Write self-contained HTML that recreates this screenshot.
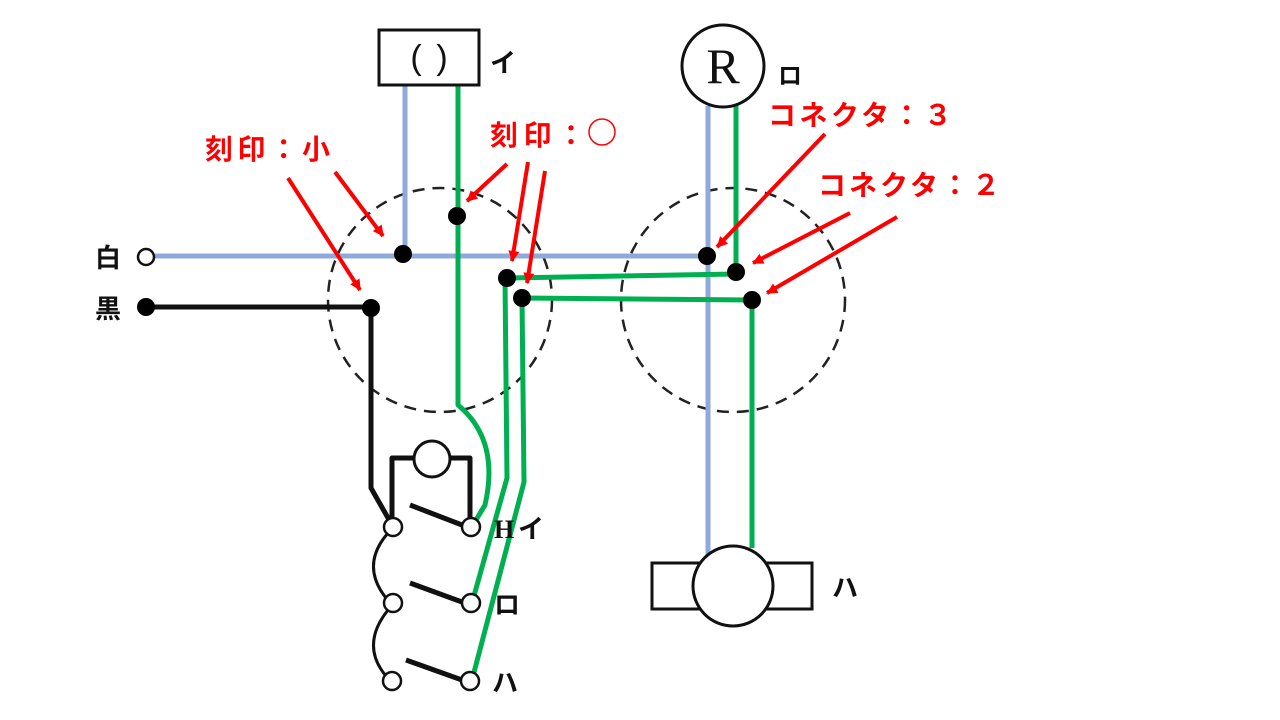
<!DOCTYPE html>
<html><head><meta charset="utf-8"><style>
html,body{margin:0;padding:0;background:#fff;}
svg{display:block;}
text{font-family:"Liberation Sans","Noto Sans CJK JP",sans-serif;}
</style></head><body>
<svg width="1280" height="720" viewBox="0 0 1280 720" xmlns="http://www.w3.org/2000/svg">
<defs>
<marker id="ar" viewBox="0 0 10 10" refX="9" refY="5" markerWidth="5" markerHeight="5" orient="auto" markerUnits="userSpaceOnUse" style="overflow:visible">
<path d="M0,0 L10,5 L0,10 z" fill="#ff0000" transform="scale(2.2) translate(-5,-3)"/>
</marker>
</defs>
<circle cx="440" cy="300" r="112" fill="none" stroke="#222" stroke-width="2.5" stroke-dasharray="12,8"/>
<circle cx="733" cy="300" r="112" fill="none" stroke="#222" stroke-width="2.5" stroke-dasharray="12,8"/>
<g stroke="#8eaadb" stroke-width="5" fill="none">
<line x1="155" y1="256" x2="708" y2="256"/>
<line x1="405" y1="85" x2="405" y2="256"/>
<line x1="708" y1="106" x2="708" y2="555"/>
</g>
<g stroke="#00b050" stroke-width="5" fill="none" stroke-linejoin="round">
<path d="M458,85 L458,405 Q500,440 485,505 L473,525"/>
<line x1="736" y1="104" x2="736" y2="272"/>
<path d="M507,278 L736,274"/>
<path d="M522,298 L752,300 L752,548"/>
<path d="M505,278 L507,478 L472,603"/>
<path d="M522,298 L524,482 L472,680"/>
</g>
<g stroke="#111" stroke-width="5" fill="none" stroke-linejoin="round">
<line x1="146" y1="307" x2="371" y2="307"/>
<path d="M371,307 L371,488 L392,525"/>
<path d="M392,525 L392,458 L414,458"/>
<path d="M450,458 L470,458 L470,525"/>
<line x1="410" y1="505" x2="462" y2="525"/>
<line x1="410" y1="583" x2="462" y2="602"/>
<line x1="406" y1="660" x2="462" y2="680"/>
</g>
<g stroke="#111" stroke-width="3" fill="none">
<path d="M388,533 Q360,565 386,598"/>
<path d="M388,610 Q360,645 386,676"/>
</g>
<circle cx="432" cy="459" r="18" fill="#fff" stroke="#111" stroke-width="3"/>
<g fill="#fff" stroke="#111" stroke-width="2.5">
<circle cx="393" cy="527" r="9"/><circle cx="471" cy="527" r="9"/>
<circle cx="393" cy="603" r="9"/><circle cx="471" cy="603" r="9"/>
<circle cx="392" cy="681" r="9"/><circle cx="470" cy="681" r="9"/>
<circle cx="146" cy="257" r="8"/>
</g>
<g fill="#000">
<circle cx="146" cy="307" r="9"/>
<circle cx="403" cy="254" r="9"/><circle cx="457" cy="216" r="9"/>
<circle cx="371" cy="308" r="9"/>
<circle cx="507" cy="278" r="9"/><circle cx="522" cy="298" r="9"/>
<circle cx="707" cy="256" r="9"/><circle cx="736" cy="272" r="9"/>
<circle cx="752" cy="300" r="9"/>
</g>
<rect x="379" y="30" width="100" height="55" fill="#fff" stroke="#111" stroke-width="3"/>
<text x="416" y="69" font-size="34" text-anchor="middle" fill="#111">(</text>
<text x="442" y="69" font-size="34" text-anchor="middle" fill="#111">)</text>
<text x="490" y="72" font-size="26" font-weight="bold" fill="#111">イ</text>
<circle cx="723" cy="66" r="41" fill="#fff" stroke="#111" stroke-width="3"/>
<text x="723" y="83" font-size="50" text-anchor="middle" fill="#111" style="font-family:'Liberation Serif',serif">R</text>
<text x="778" y="84" font-size="24" font-weight="bold" fill="#111">ロ</text>
<rect x="652" y="563" width="160" height="46" fill="#fff" stroke="#111" stroke-width="3"/>
<circle cx="733" cy="586" r="40" fill="#fff" stroke="#111" stroke-width="3"/>
<text x="832" y="597" font-size="26" font-weight="bold" fill="#111">ハ</text>
<text x="95" y="267" font-size="26" font-weight="bold" fill="#111">白</text>
<text x="95" y="318" font-size="26" font-weight="bold" fill="#111">黒</text>
<text x="494" y="538" font-size="26" font-weight="bold" fill="#111" style="font-family:'Liberation Serif',serif">H</text>
<text x="518" y="538" font-size="26" font-weight="bold" fill="#111">イ</text>
<text x="494" y="614" font-size="26" font-weight="bold" fill="#111">ロ</text>
<text x="492" y="692" font-size="26" font-weight="bold" fill="#111">ハ</text>
<g fill="#ff0000" font-weight="bold" font-size="28">
<text x="205" y="159" textLength="125" lengthAdjust="spacing">刻印：小</text>
<text x="490" y="145" textLength="95" lengthAdjust="spacing">刻印：</text>
<text x="768" y="125" textLength="184" lengthAdjust="spacing">コネクタ：３</text>
<text x="818" y="195" textLength="182" lengthAdjust="spacing">コネクタ：２</text>
</g>
<circle cx="602" cy="132" r="13" fill="none" stroke="#ff0000" stroke-width="1.5"/>
<g stroke="#ff0000" stroke-width="4" marker-end="url(#ar)">
<line x1="288" y1="178" x2="360" y2="290"/>
<line x1="335" y1="172" x2="383" y2="236"/>
<line x1="507" y1="164" x2="467" y2="201"/>
<line x1="528" y1="162" x2="512" y2="261"/>
<line x1="545" y1="171" x2="527" y2="283"/>
<line x1="825" y1="134" x2="717" y2="247"/>
<line x1="850" y1="213" x2="753" y2="263"/>
<line x1="897" y1="217" x2="767" y2="293"/>
</g>
</svg>
</body></html>
